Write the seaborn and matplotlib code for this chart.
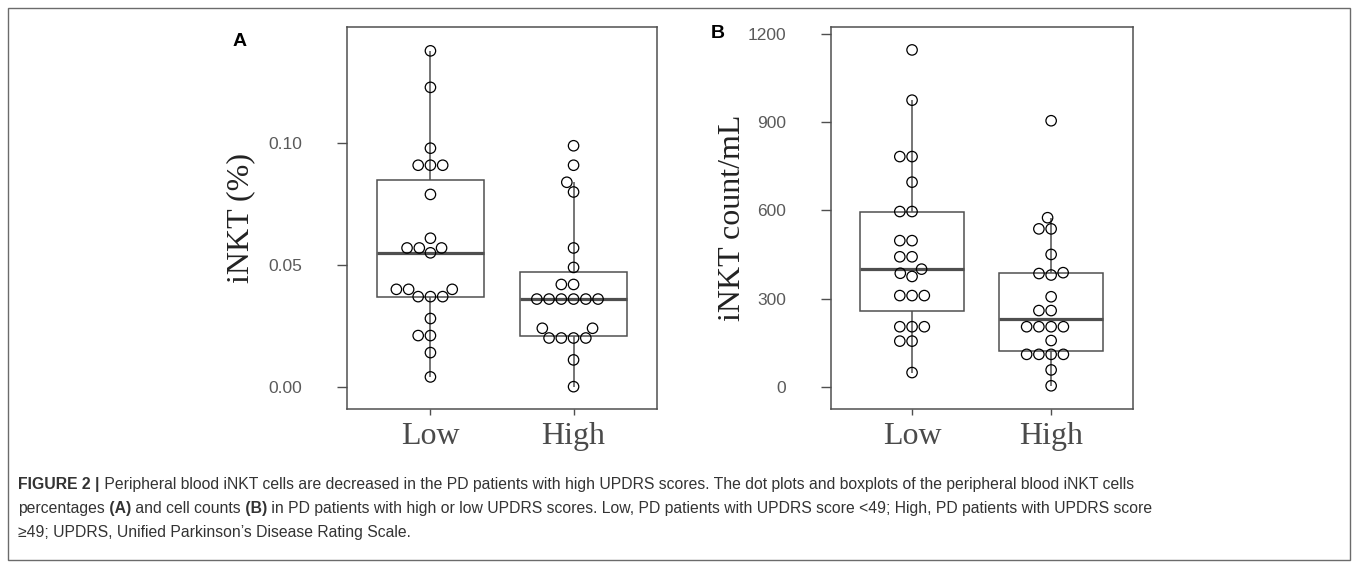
import numpy as np
import pandas as pd
import matplotlib
matplotlib.use("Agg")
import matplotlib.pyplot as plt
import seaborn as sns
from matplotlib import font_manager
from matplotlib.patches import Rectangle

## data
groups = ["Low", "High"]

# panel A : iNKT (%)
pct_low = [0.138, 0.123, 0.098, 0.091, 0.091, 0.091, 0.079, 0.061, 0.057, 0.057,
           0.057, 0.055, 0.040, 0.040, 0.040, 0.037, 0.037, 0.037, 0.028, 0.021,
           0.021, 0.014, 0.004]
pct_high = [0.099, 0.091, 0.084, 0.080, 0.057, 0.049, 0.042, 0.042, 0.036, 0.036,
            0.036, 0.036, 0.036, 0.036, 0.024, 0.024, 0.020, 0.020, 0.020, 0.020,
            0.011, 0.000]
pct_ticks = [0.00, 0.05, 0.10]

# panel B : iNKT count/mL
cnt_low = [1146, 975, 783, 783, 696, 596, 596, 497, 497, 442, 442, 400, 386, 375,
           310, 310, 310, 204, 204, 204, 155, 155, 48]
cnt_high = [905, 575, 537, 537, 450, 388, 385, 380, 306, 259, 259, 204, 204, 204,
            204, 157, 110, 110, 110, 110, 57, 3]
cnt_ticks = [0, 300, 600, 900, 1200]

caption_lines = [
    [("FIGURE 2 |", "bold"),
     (" Peripheral blood iNKT cells are decreased in the PD patients with high UPDRS scores. "
      "The dot plots and boxplots of the peripheral blood iNKT cells", "normal")],
    [("percentages", "normal"), (" (A)", "bold"), (" and cell counts", "normal"), (" (B)", "bold"),
     (" in PD patients with high or low UPDRS scores. Low, PD patients with UPDRS score <49; "
      "High, PD patients with UPDRS score", "normal")],
    [("\u226549; UPDRS, Unified Parkinson\u2019s Disease Rating Scale.", "normal")],
]

W, H = 1357, 567
line_gray = "#4f4f4f"
tick_gray = "#5a5a5a"

sns.set_theme(style="ticks")
plt.rcParams["font.family"] = ["Liberation Sans", "DejaVu Sans"]

installed = {f.name for f in font_manager.fontManager.ttflist}
if "Liberation Sans Narrow" in installed:
    cap_family, cap_size = ["Liberation Sans Narrow", "DejaVu Sans"], 13.5
else:
    cap_family, cap_size = ["Liberation Sans", "DejaVu Sans"], 11.35

fig = plt.figure(figsize=(W / 100, H / 100), dpi=100)
fig.patch.set_facecolor("white")

bg = fig.add_axes([0, 0, 1, 1], zorder=-1)
bg.set_xlim(0, W)
bg.set_ylim(H, 0)
bg.axis("off")
bg.add_patch(Rectangle((7.5, 8), 1342, 551.5, fill=False, ec="#6b6b6b", lw=1.0))


def px_axes(left, top, right, bottom):
    return fig.add_axes([left / W, 1 - bottom / H, (right - left) / W, (bottom - top) / H])


def draw_panel(ax, low, high, ticks, fmt, ylim, ylabel, label_x):
    df = pd.DataFrame({"group": ["Low"] * len(low) + ["High"] * len(high),
                       "value": low + high})
    sns.boxplot(data=df, x="group", y="value", order=groups, ax=ax, width=0.75,
                color="white", linecolor=line_gray, linewidth=1.1, showcaps=False,
                showfliers=False, whis=1.5, medianprops={"linewidth": 2.3})
    sns.swarmplot(data=df, x="group", y="value", order=groups, ax=ax, size=7.5,
                  color="black", edgecolor="black", linewidth=0.9)
    for coll in ax.collections:
        coll.set_facecolor("none")
        coll.set_edgecolor("black")

    ax.set_facecolor("none")
    ax.set_xlim(-0.585, 1.585)
    ax.set_ylim(*ylim)
    ax.set_yticks(ticks)
    ax.set_yticklabels([fmt % t for t in ticks])
    for sp in ax.spines.values():
        sp.set_visible(True)
        sp.set_color(line_gray)
        sp.set_linewidth(1.1)
    ax.tick_params(axis="y", length=7, width=1.0, color=line_gray, pad=25,
                   labelsize=12.5, labelcolor=tick_gray)
    ax.tick_params(axis="x", length=4.5, width=1.0, color=line_gray, pad=5,
                   labelsize=23, labelcolor="#4a4a4a", labelfontfamily="Liberation Serif")
    ax.set_xlabel("")
    ax.set_ylabel(ylabel, fontsize=23, family="Liberation Serif", color="#222222")
    ax.yaxis.set_label_coords(label_x, 0.5)


axA = px_axes(346.7, 27, 657.3, 409.3)
draw_panel(axA, pct_low, pct_high, pct_ticks, "%.2f", (-0.0093, 0.1478), "iNKT (%)", -0.296)

axB = px_axes(830.7, 27, 1132.5, 409.3)
draw_panel(axB, cnt_low, cnt_high, cnt_ticks, "%d", (-77, 1224), "iNKT count/mL", -0.277)

bg.text(240, 42, "A", ha="center", va="center", fontsize=14, fontweight="bold", color="black")
bg.text(718, 34, "B", ha="center", va="center", fontsize=14, fontweight="bold", color="black")

# caption, piece by piece so the bold bits sit inline
cap_kw = dict(fontsize=cap_size, family=cap_family, color="#333333")
for i, parts in enumerate(caption_lines):
    prev = None
    for s, w in parts:
        if prev is None:
            prev = bg.text(18, 489 + 24 * i, s, ha="left", va="baseline", fontweight=w, **cap_kw)
        else:
            prev = bg.annotate(s, xy=(1, 0), xycoords=prev, ha="left", va="bottom",
                               fontweight=w, **cap_kw)

fig.savefig("out.png", dpi=100)
